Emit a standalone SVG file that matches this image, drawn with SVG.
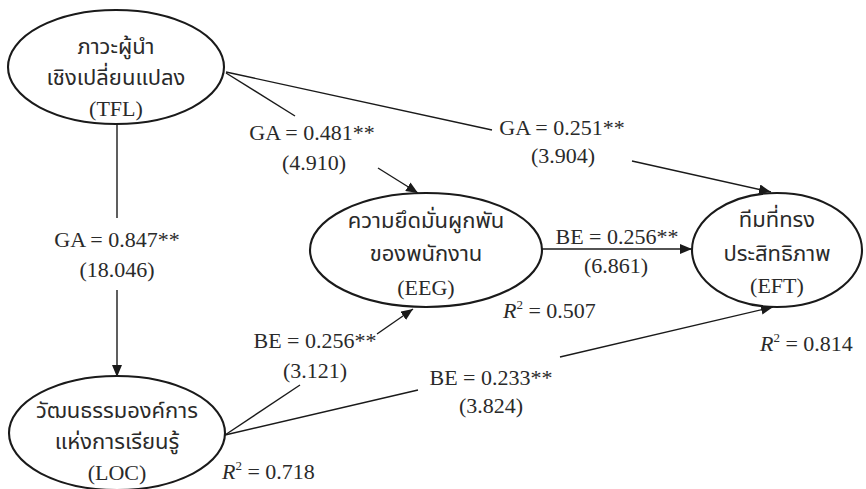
<svg xmlns="http://www.w3.org/2000/svg" width="866" height="489" viewBox="0 0 866 489">
  <style>
    .node { fill: #ffffff; stroke: #1a1a1a; stroke-width: 2.1; }
    .th { font-family: "Noto Sans Thai", "Noto Serif Thai", "Liberation Serif", serif; font-size: 22px; fill: #2a2a2a; text-anchor: middle; }
    .lbl { font-family: "Liberation Serif", "Times New Roman", serif; font-size: 22px; fill: #2a2a2a; text-anchor: middle; }
    .r2 { font-family: "Liberation Serif", "Times New Roman", serif; font-size: 22px; fill: #2a2a2a; }
    .edge { fill: none; stroke: #1a1a1a; stroke-width: 1.4; }
  </style>
  <defs>
    <marker id="arrow" viewBox="0 0 12 10" refX="12" refY="5" markerWidth="12" markerHeight="10" markerUnits="userSpaceOnUse" orient="auto">
      <path d="M0,0 L12,5 L0,10 Z" fill="#1a1a1a"/>
    </marker>
  </defs>
  <rect width="866" height="489" fill="#ffffff"/>

  <!-- paths between constructs, each split around its coefficient label -->
  <g id="connectors">
    <!-- TFL -> LOC -->
    <line class="edge" x1="117" y1="124" x2="117" y2="218"/>
    <line class="edge" x1="117" y1="290" x2="117" y2="377" marker-end="url(#arrow)"/>
    <!-- TFL -> EEG -->
    <line class="edge" x1="226" y1="73" x2="295" y2="116"/>
    <line class="edge" x1="378" y1="168" x2="418" y2="193" marker-end="url(#arrow)"/>
    <!-- TFL -> EFT -->
    <line class="edge" x1="226" y1="72" x2="492" y2="130"/>
    <line class="edge" x1="632" y1="161" x2="771" y2="192" marker-end="url(#arrow)"/>
    <!-- EEG -> EFT -->
    <line class="edge" x1="542" y1="249" x2="692" y2="249" marker-end="url(#arrow)"/>
    <!-- LOC -> EEG -->
    <line class="edge" x1="225" y1="435" x2="300" y2="385"/>
    <line class="edge" x1="377" y1="334" x2="413" y2="309" marker-end="url(#arrow)"/>
    <!-- LOC -> EFT -->
    <line class="edge" x1="225" y1="435" x2="418" y2="390"/>
    <line class="edge" x1="560" y1="357" x2="773" y2="307" marker-end="url(#arrow)"/>

    <text class="lbl" x="117" y="247">GA = 0.847**</text>
    <text class="lbl" x="117" y="277">(18.046)</text>
    <text class="lbl" x="312" y="140">GA = 0.481**</text>
    <text class="lbl" x="314" y="170">(4.910)</text>
    <text class="lbl" x="562" y="135">GA = 0.251**</text>
    <text class="lbl" x="563" y="163">(3.904)</text>
    <text class="lbl" x="617" y="244">BE = 0.256**</text>
    <text class="lbl" x="616" y="273">(6.861)</text>
    <text class="lbl" x="315" y="348">BE = 0.256**</text>
    <text class="lbl" x="315" y="378">(3.121)</text>
    <text class="lbl" x="491" y="385">BE = 0.233**</text>
    <text class="lbl" x="491" y="413">(3.824)</text>
  </g>

  <g id="TFL">
    <ellipse class="node" cx="116" cy="67" rx="108" ry="57"/>
    <text class="th" x="116" y="54">ภาวะผู้นำ</text>
    <text class="th" x="116" y="85">เชิงเปลี่ยนแปลง</text>
    <text class="lbl" x="116" y="116">(TFL)</text>
  </g>

  <g id="LOC">
    <ellipse class="node" cx="117" cy="433" rx="108" ry="57"/>
    <text class="th" x="117" y="418">วัฒนธรรมองค์การ</text>
    <text class="th" x="117" y="449">แห่งการเรียนรู้</text>
    <text class="lbl" x="117" y="480">(LOC)</text>
    <text class="r2" x="222" y="479"><tspan font-style="italic">R</tspan><tspan font-size="13" dy="-9">2</tspan><tspan dy="9"> = 0.718</tspan></text>
  </g>

  <g id="EEG">
    <ellipse class="node" cx="426" cy="250" rx="116" ry="57"/>
    <text class="th" x="426" y="228">ความยึดมั่นผูกพัน</text>
    <text class="th" x="426" y="261">ของพนักงาน</text>
    <text class="lbl" x="426" y="295">(EEG)</text>
    <text class="r2" x="503" y="318"><tspan font-style="italic">R</tspan><tspan font-size="13" dy="-9">2</tspan><tspan dy="9"> = 0.507</tspan></text>
  </g>

  <g id="EFT">
    <ellipse class="node" cx="777" cy="250" rx="85" ry="57"/>
    <text class="th" x="777" y="227">ทีมที่ทรง</text>
    <text class="th" x="777" y="261">ประสิทธิภาพ</text>
    <text class="lbl" x="777" y="293">(EFT)</text>
    <text class="r2" x="760" y="351"><tspan font-style="italic">R</tspan><tspan font-size="13" dy="-9">2</tspan><tspan dy="9"> = 0.814</tspan></text>
  </g>
</svg>
